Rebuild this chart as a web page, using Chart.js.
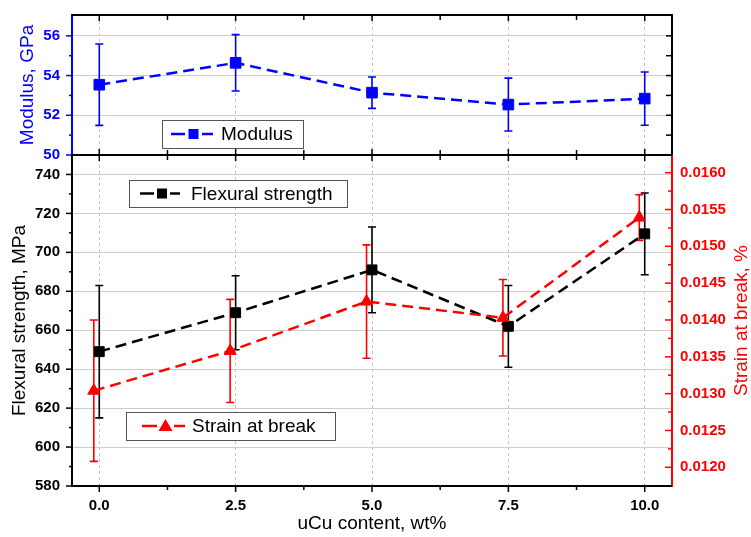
<!DOCTYPE html>
<html>
<head>
<meta charset="utf-8">
<title>Modulus / Flexural strength / Strain at break</title>
<script src="https://cdn.jsdelivr.net/npm/chart.js@4"></script>
<style>
html, body { margin: 0; padding: 0; background: #fff; }
#wrap { width: 751px; height: 537px; }
</style>
</head>
<body>
<div id="wrap"><canvas id="chart" width="751" height="537"></canvas></div>
<script>
// valeurs
const contentX = [0, 2.5, 5, 7.5, 10];
const strainX = [-0.1, 2.4, 4.9, 7.4, 9.9];
const modulus = [53.54, 54.64, 53.14, 52.54, 52.84];
const modulusErr = [2.05, 1.42, 0.79, 1.33, 1.34];
const flexural = [649, 669, 691, 662, 709.5];
const flexuralErr = [34, 19, 22, 21, 21];
const strain = [0.01304, 0.01358, 0.01425, 0.01403, 0.01539];
const strainErr = [0.00096, 0.0007, 0.00077, 0.00052, 0.00031];

// graduations
const xTicks = [0, 2.5, 5, 7.5, 10];
const modTicks = [50, 52, 54, 56];
const flexTicks = [580, 600, 620, 640, 660, 680, 700, 720, 740];
const strainTicks = [0.0120, 0.0125, 0.0130, 0.0135, 0.0140, 0.0145, 0.0150, 0.0155, 0.0160];

const BLUE = '#0000ff', RED = '#ff0000', BLACK = '#000000';
const FONT = "'Liberation Sans', Arial, sans-serif";
const tickFont = { family: FONT, size: 15, weight: 'bold' };

// petites graduations au milieu des grandes
function minors(major, lo, hi) {
    const step = major[1] - major[0];
    const out = [];
    for (let v = major[0] - step / 2; v < hi - step / 10; v += step) {
        if (v > lo + step / 10) out.push(v);
    }
    return out;
}

function gridColor(minVal) {
    return ctx => (ctx.tick && Math.abs(ctx.tick.value - minVal) < 1e-9) ? 'rgba(0,0,0,0)' : '#cccccc';
}

// largeur fixe des axes verticaux, sans marge pour les étiquettes
function fixY(width) {
    return sc => { sc.width = width; sc.paddingTop = 0; sc.paddingBottom = 0; };
}

// barres d'erreur
const errorBars = {
    id: 'errorBars',
    beforeDatasetsDraw(chart) {
        const ctx = chart.ctx;
        chart.data.datasets.forEach((ds, i) => {
            const meta = chart.getDatasetMeta(i);
            const ys = chart.scales[ds.yAxisID];
            ctx.save();
            ctx.strokeStyle = ds.borderColor;
            ctx.lineWidth = 1.6;
            meta.data.forEach((pt, j) => {
                const v = ds.data[j].y, e = ds.errors[j];
                const t = ys.getPixelForValue(v + e), b = ys.getPixelForValue(v - e);
                ctx.beginPath();
                ctx.moveTo(pt.x, t); ctx.lineTo(pt.x, b);
                ctx.moveTo(pt.x - 4, t); ctx.lineTo(pt.x + 4, t);
                ctx.moveTo(pt.x - 4, b); ctx.lineTo(pt.x + 4, b);
                ctx.stroke();
            });
            ctx.restore();
        });
    }
};

// cadre, graduations, titres et légendes
const frame = {
    id: 'frame',
    afterDraw(chart) {
        const { ctx, chartArea: a, scales: s } = chart;
        const mid = s.yMod.bottom;
        ctx.save();
        const seg = (x1, y1, x2, y2, c, w) => {
            ctx.strokeStyle = c; ctx.lineWidth = w;
            ctx.beginPath(); ctx.moveTo(x1, y1); ctx.lineTo(x2, y2); ctx.stroke();
        };
        const xm = minors(xTicks, s.x.min, s.x.max);
        xTicks.forEach(v => {
            const p = s.x.getPixelForValue(v);
            seg(p, a.bottom, p, a.bottom + 6, BLACK, 1.5);
            seg(p, mid - 6, p, mid + 6, BLACK, 1.5);
            seg(p, a.top, p, a.top + 6, BLACK, 1.5);
        });
        xm.forEach(v => {
            const p = s.x.getPixelForValue(v);
            seg(p, a.bottom, p, a.bottom + 4, BLACK, 1.5);
            seg(p, mid - 5, p, mid + 5, BLACK, 1.5);
            seg(p, a.top, p, a.top + 5, BLACK, 1.5);
        });
        // panneau du haut
        modTicks.forEach(v => {
            const p = s.yMod.getPixelForValue(v);
            seg(a.left - 6, p, a.left, p, BLUE, 1.5);
            seg(a.right - 6, p, a.right, p, BLACK, 1.5);
        });
        minors(modTicks, s.yMod.min, s.yMod.max).forEach(v => {
            const p = s.yMod.getPixelForValue(v);
            seg(a.left - 3, p, a.left, p, BLUE, 1.5);
            seg(a.right - 6, p, a.right, p, BLACK, 1.5);
        });
        // panneau du bas
        flexTicks.forEach(v => {
            const p = s.yFlex.getPixelForValue(v);
            seg(a.left - 6, p, a.left, p, BLACK, 1.5);
        });
        minors(flexTicks, s.yFlex.min, s.yFlex.max).forEach(v => {
            const p = s.yFlex.getPixelForValue(v);
            seg(a.left - 3, p, a.left, p, BLACK, 1.5);
        });
        strainTicks.forEach(v => {
            const p = s.yStrain.getPixelForValue(v);
            seg(a.right - 7, p, a.right, p, RED, 1.5);
        });
        minors(strainTicks, s.yStrain.min, s.yStrain.max).forEach(v => {
            const p = s.yStrain.getPixelForValue(v);
            seg(a.right - 4, p, a.right, p, RED, 1.5);
        });
        // axes
        seg(a.left, a.top - 1, a.left, mid, BLUE, 2);
        seg(a.left, mid, a.left, a.bottom + 1, BLACK, 2);
        seg(a.right, a.top - 1, a.right, mid, BLACK, 2);
        seg(a.right, mid, a.right, a.bottom + 1, RED, 2);
        seg(a.left, a.top, a.right, a.top, BLACK, 2);
        seg(a.left, mid, a.right, mid, BLACK, 2);
        seg(a.left, a.bottom, a.right, a.bottom, BLACK, 2);

        // titres des axes
        const title = (txt, x, y, color, rot) => {
            ctx.save();
            ctx.translate(x, y); ctx.rotate(rot);
            ctx.fillStyle = color;
            ctx.font = '19px ' + FONT;
            ctx.textAlign = 'center'; ctx.textBaseline = 'middle';
            ctx.fillText(txt, 0, 0);
            ctx.restore();
        };
        title('Modulus, GPa', 28, (s.yMod.top + s.yMod.bottom) / 2, BLUE, -Math.PI / 2);
        title('Flexural strength, MPa', 20, (s.yFlex.top + s.yFlex.bottom) / 2, BLACK, -Math.PI / 2);
        title('Strain at break, %', 742, (s.yStrain.top + s.yStrain.bottom) / 2, RED, -Math.PI / 2);
        title('uCu content, wt%', (a.left + a.right) / 2, 524, BLACK, 0);

        // légendes
        const legends = [
            { ds: 0, box: [162, 120, 141, 28], l: [171, 185], m: 193.5, r: [202, 213], tx: 221 },
            { ds: 2, box: [129, 180, 218, 27], l: [140, 154], m: 162, r: [170, 180], tx: 191 },
            { ds: 1, box: [126, 412, 209, 28], l: [142, 157], m: 165.5, r: [174, 185], tx: 192 }
        ];
        legends.forEach(L => {
            const ds = chart.data.datasets[L.ds];
            const [bx, by, bw, bh] = L.box;
            const cy = by + bh / 2;
            ctx.fillStyle = '#fff';
            ctx.fillRect(bx, by, bw, bh);
            ctx.strokeStyle = '#555'; ctx.lineWidth = 1;
            ctx.strokeRect(bx + 0.5, by + 0.5, bw, bh);
            seg(L.l[0], cy, L.l[1], cy, ds.borderColor, 2.5);
            seg(L.r[0], cy, L.r[1], cy, ds.borderColor, 2.5);
            ctx.fillStyle = ds.borderColor;
            if (ds.pointStyle === 'triangle') {
                ctx.beginPath();
                ctx.moveTo(L.m, cy - 7); ctx.lineTo(L.m + 7, cy + 5); ctx.lineTo(L.m - 7, cy + 5);
                ctx.closePath(); ctx.fill();
            } else {
                ctx.fillRect(L.m - 5, cy - 5, 10, 10);
            }
            ctx.fillStyle = BLACK;
            ctx.font = '19px ' + FONT;
            ctx.textAlign = 'left'; ctx.textBaseline = 'middle';
            ctx.fillText(ds.label, L.tx, cy + 1);
        });
        ctx.restore();
    }
};

function serie(label, xs, ys, errs, axis, color, style, radius) {
    return {
        label: label,
        data: xs.map((x, i) => ({ x: x, y: ys[i] })),
        errors: errs,
        yAxisID: axis,
        borderColor: color,
        backgroundColor: color,
        borderWidth: 2.5,
        borderDash: [11, 6],
        pointStyle: style,
        pointRadius: radius,
        pointHoverRadius: radius,
        pointBorderWidth: 1,
        tension: 0
    };
}

new Chart(document.getElementById('chart'), {
    type: 'line',
    data: {
        datasets: [
            serie('Modulus', contentX, modulus, modulusErr, 'yMod', BLUE, 'rect', 7.5),
            serie('Strain at break', strainX, strain, strainErr, 'yStrain', RED, 'triangle', 7),
            serie('Flexural strength', contentX, flexural, flexuralErr, 'yFlex', BLACK, 'rect', 7)
        ]
    },
    options: {
        responsive: false,
        animation: false,
        layout: { padding: { top: 15, left: 0, right: 0, bottom: 0 } },
        plugins: { legend: { display: false }, tooltip: { enabled: false } },
        scales: {
            x: {
                type: 'linear', position: 'bottom', min: -0.5, max: 10.5,
                afterBuildTicks: sc => { sc.ticks = xTicks.map(v => ({ value: v })); },
                afterFit: sc => { sc.height = 51; sc.paddingLeft = 0; sc.paddingRight = 0; },
                ticks: { font: tickFont, color: BLACK, padding: 11, maxRotation: 0, autoSkip: false,
                         callback: v => Number(v).toFixed(1) },
                grid: { drawTicks: false, color: '#c4c4c4', lineWidth: 1 },
                border: { display: false, dash: [3, 3] }
            },
            yFlex: {
                type: 'linear', position: 'left', stack: 'left', stackWeight: 331, weight: 1,
                min: 580, max: 750,
                afterBuildTicks: sc => { sc.ticks = flexTicks.map(v => ({ value: v })); },
                afterFit: fixY(72),
                ticks: { font: tickFont, color: BLACK, padding: 12 },
                grid: { drawTicks: false, color: gridColor(580), lineWidth: 1 },
                border: { display: false }
            },
            yMod: {
                type: 'linear', position: 'left', stack: 'left', stackWeight: 140, weight: 2,
                min: 50, max: 57.05,
                afterBuildTicks: sc => { sc.ticks = modTicks.map(v => ({ value: v })); },
                afterFit: fixY(72),
                ticks: { font: tickFont, color: BLUE, padding: 12 },
                grid: { drawTicks: false, color: gridColor(50), lineWidth: 1 },
                border: { display: false }
            },
            yModR: {
                type: 'linear', position: 'right', stack: 'right', stackWeight: 140, weight: 1,
                min: 50, max: 57.05,
                afterFit: fixY(79),
                ticks: { display: false },
                grid: { display: false, drawTicks: false },
                border: { display: false }
            },
            yStrain: {
                type: 'linear', position: 'right', stack: 'right', stackWeight: 331, weight: 2,
                min: 0.011746, max: 0.01624,
                afterBuildTicks: sc => { sc.ticks = strainTicks.map(v => ({ value: v })); },
                afterFit: fixY(79),
                ticks: { font: tickFont, color: RED, padding: 8, callback: v => Number(v).toFixed(4) },
                grid: { display: false, drawTicks: false },
                border: { display: false }
            }
        }
    },
    plugins: [errorBars, frame]
});
</script>
</body>
</html>
